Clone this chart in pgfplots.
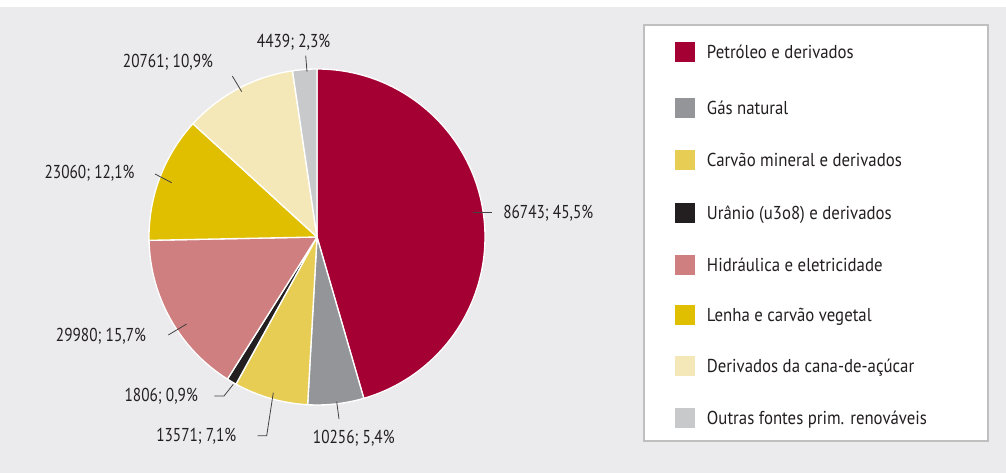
\documentclass[border=0pt]{standalone}
\usepackage{pgfplots}
\usepackage{pgfplotstable}
\pgfplotsset{compat=1.18}
\usepackage{fontspec}
\setmainfont{PT Sans}[FakeStretch=0.9]
\newfontfamily\numfont{PT Sans}[FakeStretch=0.82]

\definecolor{bgc}{HTML}{EBEBED}
\definecolor{txt}{HTML}{231F20}
\definecolor{pc0}{HTML}{A50034}
\definecolor{pc1}{HTML}{939598}
\definecolor{pc2}{HTML}{E8CD55}
\definecolor{pc3}{HTML}{231F20}
\definecolor{pc4}{HTML}{CF7F7F}
\definecolor{pc5}{HTML}{E0BF00}
\definecolor{pc6}{HTML}{F5E8B8}
\definecolor{pc7}{HTML}{C8C9CB}

% slices clockwise from the top; tx/ty = label position (image px, y down)
\pgfplotstableread{
val   pct  tx    ty
86743 45,5 503   212
10256 5,4  312.7 437
13571 7,1  156   435
1806  0,9  124.3 395
29980 15,7 55.7  335
23060 12,1 44.3  171.7
20761 10,9 122.7 60.7
4439  2,3  256.7 40.7
}\piedata

% cumulative angles (l3fp, the values are too large for pgfmath)
\def\total{0}
\pgfplotsforeachungrouped \i in {0,...,7}{%
  \pgfplotstablegetelem{\i}{val}\of\piedata
  \edef\total{\fpeval{\total+\pgfplotsretval}}}
\def\cum{0}
\pgfplotsforeachungrouped \i in {0,...,7}{%
  \pgfplotstablegetelem{\i}{val}\of\piedata
  \expandafter\xdef\csname sa\i\endcsname{\fpeval{round(90-360*\cum/\total,3)}}%
  \edef\cum{\fpeval{\cum+\pgfplotsretval}}%
  \expandafter\xdef\csname ea\i\endcsname{\fpeval{round(90-360*\cum/\total,3)}}}

\begin{document}
\begin{tikzpicture}[lbl/.style={font=\fontsize{14}{16}\selectfont, text=txt, inner sep=0pt, anchor=base west}]
\begin{axis}[
    x=0.75pt, y=0.75pt,
    xmin=0, xmax=1006, ymin=0, ymax=473,
    hide axis, clip=false,
]
\fill[white] (axis cs:0,0) rectangle (axis cs:1006,473);
\fill[bgc] (axis cs:0,0) rectangle (axis cs:1006,466);
\coordinate (bl) at (axis cs:0,0);
\coordinate (tr) at (axis cs:1006,473);

% pie
\pgfplotsforeachungrouped \i in {0,...,7}{%
  \edef\temp{\noexpand\fill[pc\i, draw=white, line width=1pt, line join=round]
    (axis cs:317,236) -- ++(\csname sa\i\endcsname:126pt)
    arc[start angle=\csname sa\i\endcsname, end angle=\csname ea\i\endcsname, radius=126pt] -- cycle;}%
  \temp}

% value labels
\pgfplotsforeachungrouped \i in {0,...,7}{%
  \pgfplotstablegetelem{\i}{val}\of\piedata \let\v\pgfplotsretval
  \pgfplotstablegetelem{\i}{pct}\of\piedata \let\p\pgfplotsretval
  \pgfplotstablegetelem{\i}{tx}\of\piedata \let\tx\pgfplotsretval
  \pgfplotstablegetelem{\i}{ty}\of\piedata
  \edef\ty{\fpeval{473-\pgfplotsretval-6.5}}%
  \edef\temp{\noexpand\node[lbl] at (axis cs:\tx,\ty) {\noexpand\numfont\v; \p\noexpand\%};}%
  \temp}

% leader lines
\begin{scope}[draw=txt!85, line width=0.6pt]
\draw (axis cs:473,261) -- (axis cs:492,261);
\draw (axis cs:336.7,71.3) -- (axis cs:339,54);
\draw (axis cs:273.3,80.3) -- (axis cs:266.7,37.3) -- (axis cs:257.7,37.3);
\draw (axis cs:233.3,88.7) -- (axis cs:224,77) -- (axis cs:214.3,77);
\draw (axis cs:186.7,149) -- (axis cs:168.3,138);
\draw (axis cs:171.7,290.3) -- (axis cs:155,299);
\draw (axis cs:241.7,381.3) -- (axis cs:232.3,397);
\draw (axis cs:307,401.3) -- (axis cs:305.7,417.3);
\end{scope}

% legend
\filldraw[fill=white, draw=black!25, line width=1pt] (axis cs:644,32) rectangle (axis cs:988,448);
\def\legrow#1#2#3{%
  \fill[#1] (axis cs:675,{473-#2-10}) rectangle (axis cs:695,{473-#2+10});
  \node[lbl] at (axis cs:706.7,{473-#2-6.5}) {#3};}
\legrow{pc0}{52}{Petróleo e derivados}
\legrow{pc1}{108.5}{Gás natural}
\legrow{pc2}{160}{Carvão mineral e derivados}
\legrow{pc3}{213}{Urânio (u3o8) e derivados}
\legrow{pc4}{265}{Hidráulica e eletricidade}
\legrow{pc5}{315}{Lenha e carvão vegetal}
\legrow{pc6}{366}{Derivados da cana-de-açúcar}
\legrow{pc7}{418}{Outras fontes prim. renováveis}
\end{axis}
\pgfresetboundingbox
\useasboundingbox (bl) rectangle (tr);
\end{tikzpicture}
\end{document}
